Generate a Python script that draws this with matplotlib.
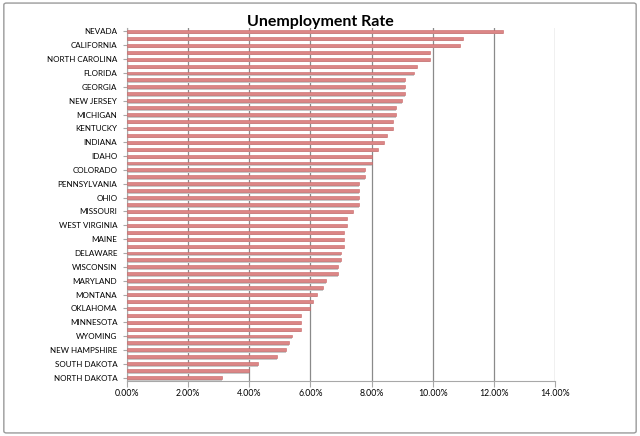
import matplotlib
matplotlib.use("Agg")
import matplotlib.pyplot as plt
from matplotlib.patches import FancyBboxPatch
from matplotlib.ticker import FuncFormatter, MultipleLocator

states = [
    "NEVADA", "RHODE ISLAND", "CALIFORNIA", "DISTRICT OF COLUMBIA", "NORTH CAROLINA",
    "MISSISSIPPI", "FLORIDA", "SOUTH CAROLINA", "GEORGIA", "ILLINOIS",
    "NEW JERSEY", "OREGON", "MICHIGAN", "ARIZONA", "KENTUCKY",
    "WASHINGTON", "INDIANA", "CONNECTICUT", "IDAHO", "TENNESSEE",
    "COLORADO", "NEW YORK", "PENNSYLVANIA", "ALABAMA", "OHIO",
    "ALASKA", "MISSOURI", "ARKANSAS", "WEST VIRGINIA", "LOUISIANA",
    "MAINE", "TEXAS", "DELAWARE", "MASSACHUSETTS", "WISCONSIN",
    "NEW MEXICO", "MARYLAND", "HAWAII", "MONTANA", "UTAH",
    "OKLAHOMA", "KANSAS", "MINNESOTA", "VIRGINIA", "WYOMING",
    "IOWA", "NEW HAMPSHIRE", "VERMONT", "SOUTH DAKOTA", "NEBRASKA",
    "NORTH DAKOTA",
]
rates = [
    12.3, 11.0, 10.9, 9.9, 9.9,
    9.5, 9.4, 9.1, 9.1, 9.1,
    9.0, 8.8, 8.8, 8.7, 8.7,
    8.5, 8.4, 8.2, 8.0, 8.0,
    7.8, 7.8, 7.6, 7.6, 7.6,
    7.6, 7.4, 7.2, 7.2, 7.1,
    7.1, 7.1, 7.0, 7.0, 6.9,
    6.9, 6.5, 6.4, 6.2, 6.1,
    6.0, 5.7, 5.7, 5.7, 5.4,
    5.3, 5.2, 4.9, 4.3, 4.0,
    3.1,
]
title = "Unemployment Rate"

plt.rcParams['font.family'] = ['Lato', 'DejaVu Sans']

fig = plt.figure(figsize=(6.4, 4.36), dpi=100)
fig.patch.set_facecolor('white')
border = FancyBboxPatch((0.006, 0.007), 0.988, 0.986, boxstyle="round,pad=0,rounding_size=0.004",
                        transform=fig.transFigure, facecolor='none', edgecolor='#9a9a9a', lw=1.0)
fig.patches.append(border)

ax = fig.add_axes([0.1984, 0.1261, 0.6688, 0.8096])
n = len(states)
ypos = list(range(n))
# shadow
ax.barh([y + 0.22 for y in ypos], rates, height=0.42, color='#c8c8c8', edgecolor='none', zorder=2)
ax.barh(ypos, rates, height=0.42, color='#dc8686', edgecolor='#c96666', linewidth=0.4, zorder=3)

ax.set_ylim(n - 0.5, -0.5)
ax.set_xlim(0, 14)
ax.xaxis.set_major_locator(MultipleLocator(2))
ax.xaxis.set_major_formatter(FuncFormatter(lambda v, p: f"{v:.2f}%"))
ax.set_yticks(ypos[::2])
ax.set_yticklabels(states[::2])
ax.grid(axis='x', color='#8a8a8a', lw=0.9, zorder=1)
ax.set_axisbelow(True)
for s in ['top', 'right']:
    ax.spines[s].set_visible(False)
ax.spines['left'].set_color('#a8a8a8')
ax.spines['bottom'].set_color('#a8a8a8')
ax.tick_params(axis='y', length=3, color='#a8a8a8', labelsize=5.75, pad=4)
ax.tick_params(axis='x', length=4, color='#a8a8a8', labelsize=6.3, pad=2)
fig.text(0.5, 1 - 26 / 436, title, fontsize=11.5, fontweight='bold', ha='center', va='baseline')

fig.savefig("out.png", dpi=100)
